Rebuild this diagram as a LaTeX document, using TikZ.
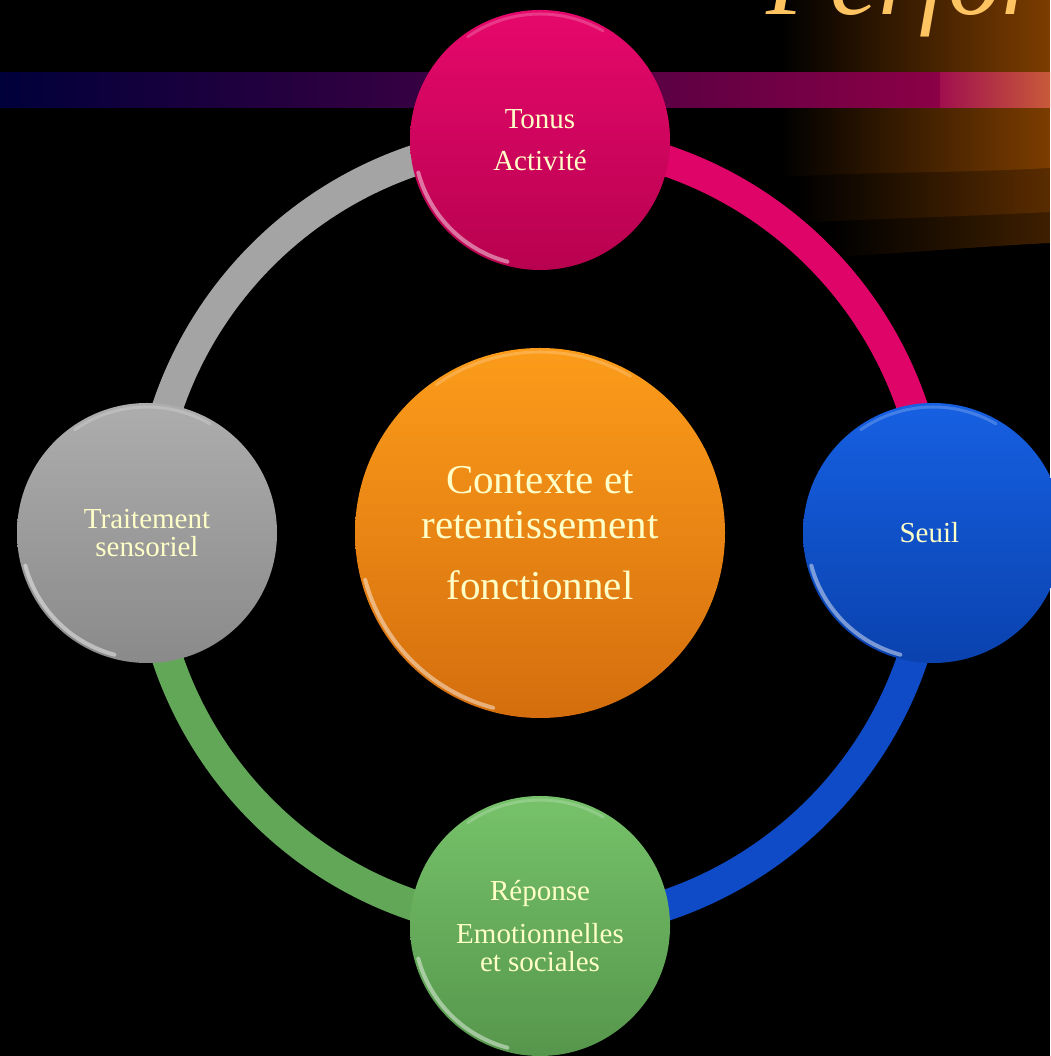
\documentclass[tikz,border=0pt]{standalone}
\usepackage{fontspec}
\setmainfont{Liberation Serif}
\usetikzlibrary{positioning}

\definecolor{cream}{HTML}{FFFFC8}
\definecolor{gold}{HTML}{FFC462}
\definecolor{pinkT}{HTML}{E6086C}
\definecolor{pinkB}{HTML}{B8024F}
\definecolor{pinkarc}{HTML}{DE0468}
\definecolor{blueT}{HTML}{1660E2}
\definecolor{blueB}{HTML}{0A42AE}
\definecolor{bluearc}{HTML}{0F4BC6}
\definecolor{greenT}{HTML}{76C26A}
\definecolor{greenB}{HTML}{56964C}
\definecolor{greenarc}{HTML}{62A658}
\definecolor{grayT}{HTML}{ADADAD}
\definecolor{grayB}{HTML}{8A8A8A}
\definecolor{grayarc}{HTML}{A4A4A4}
\definecolor{orangeT}{HTML}{FC9C1A}
\definecolor{orangeB}{HTML}{D46E0E}
\definecolor{glowA}{HTML}{7C3D00}
\definecolor{glowB}{HTML}{5A2C00}
\definecolor{glowC}{HTML}{3E1F00}
\definecolor{barA}{HTML}{00003A}
\definecolor{barB}{HTML}{3A0042}
\definecolor{barC}{HTML}{8C0046}
\definecolor{barD}{HTML}{A0104E}
\definecolor{barE}{HTML}{C85A3A}

\pgfdeclarelayer{back}
\pgfdeclarelayer{loop}
\pgfsetlayers{back,loop,main}

\begin{document}
\begin{tikzpicture}[
    x=1pt, y=1pt,
    ball/.style={circle, minimum size=260pt, inner sep=0pt, outer sep=0pt, align=center,
        text=cream, font=\fontsize{29}{28}\selectfont},
    bigball/.style={ball, minimum size=370pt, font=\fontsize{41}{45}\selectfont},
    band/.style={line width=31pt},
    gloss/.style={white, line width=4pt, line cap=round, opacity=.45},
    node distance=78pt
]
\useasboundingbox (0,0) rectangle (1050,1056);

\node[bigball, top color=orangeT, bottom color=orangeB] (contexte) at (540,523) {
Contexte et\\retentissement\\[16pt]fonctionnel
};

\node[ball, top color=pinkT, bottom color=pinkB, above=of contexte] (tonus) {
Tonus\\[14pt]Activité
};

\node[ball, top color=blueT, bottom color=blueB, right=of contexte] (seuil) {
Seuil
};

\node[ball, top color=greenT, bottom color=greenB, below=of contexte] (reponse) {
Réponse\\[15pt]Emotionnelles\\et sociales
};

\node[ball, top color=grayT, bottom color=grayB, left=of contexte] (traitement) {
Traitement\\sensoriel
};

% shine on the rims
\foreach \n/\r in {tonus/130, seuil/130, reponse/130, traitement/130, contexte/185} {
    \draw[gloss] ([shift={(195:{\r-4})}]\n.center) arc[start angle=195, end angle=255, radius={\r-4}];
    \draw[gloss, opacity=.2, line width=3pt] ([shift={(60:{\r-4})}]\n.center) arc[start angle=60, end angle=125, radius={\r-4}];
}

% ring between the balls
\begin{pgfonlayer}{loop}
\draw[band, pinkarc] (seuil.center) arc[start angle=0, end angle=90, radius=393];
\draw[band, grayarc] (tonus.center) arc[start angle=90, end angle=180, radius=393];
\draw[band, greenarc] (traitement.center) arc[start angle=180, end angle=270, radius=393];
\draw[band, bluearc] (reponse.center) arc[start angle=270, end angle=360, radius=393];
\end{pgfonlayer}

% slide background
\begin{pgfonlayer}{back}
\fill[black] (0,0) rectangle (1050,1056);
\shade[left color=black, right color=glowC] (830,900) -- (830,799) to[out=3,in=183] (1050,813) -- (1050,900) -- cycle;
\shade[left color=black, right color=glowB] (797,900) -- (797,833) to[out=3,in=183] (1050,844) -- (1050,900) -- cycle;
\shade[left color=black, right color=glowA] (780,1056) -- (780,879) to[out=3,in=183] (1050,888) -- (1050,1056) -- cycle;
\node[anchor=base west, inner sep=0pt, text=gold, font=\fontsize{106}{106}\selectfont\itshape] (titre) at (766,1041) {Perfor};
\shade[left color=barA, right color=barB] (0,948) rectangle (451,983);
\shade[left color=barB, right color=barC] (450,948) rectangle (941,983);
\shade[left color=barD, right color=barE] (940,948) rectangle (1050,983);
\end{pgfonlayer}

\end{tikzpicture}
\end{document}
